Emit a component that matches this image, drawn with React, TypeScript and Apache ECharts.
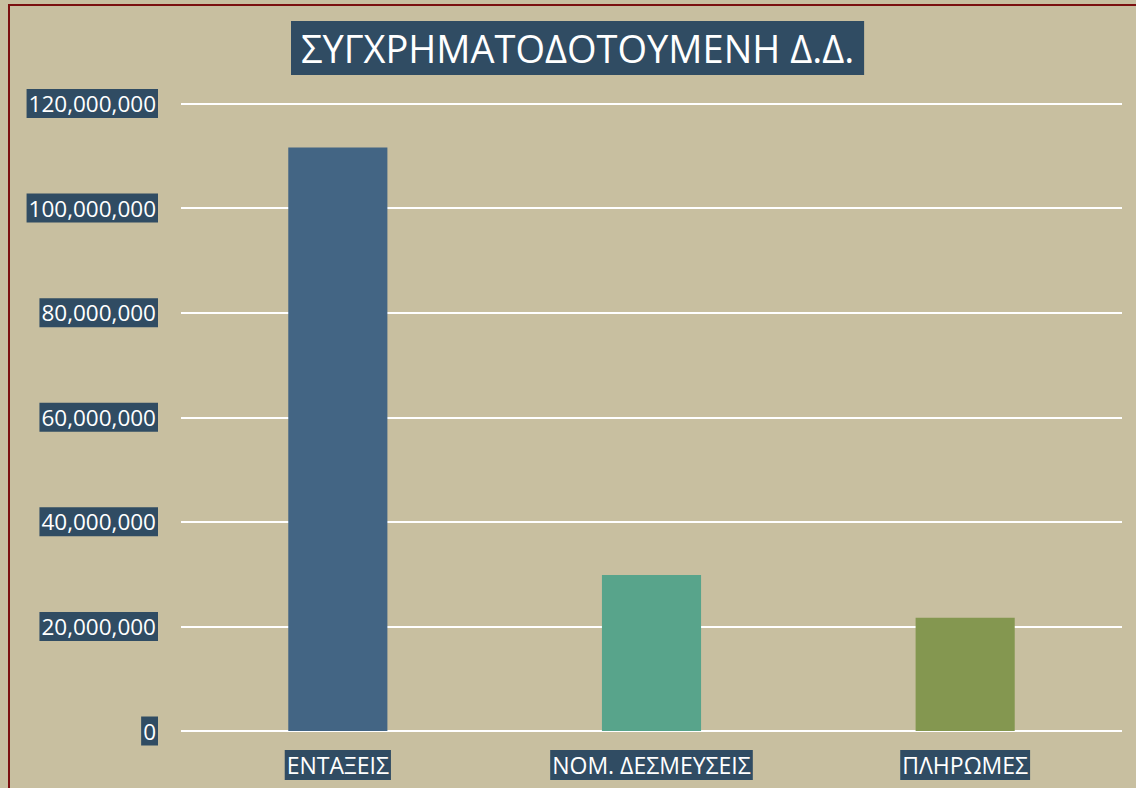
import React, { useEffect, useRef } from "react";
import * as echarts from "echarts";

const categories = ["ΕΝΤΑΞΕΙΣ", "ΝΟΜ. ΔΕΣΜΕΥΣΕΙΣ", "ΠΛΗΡΩΜΕΣ"];
const values = [111600000, 29850000, 21650000];
const barColors = ["#436584", "#58A48B", "#849750"];
const titleText = "ΣΥΓΧΡΗΜΑΤΟΔΟΤΟΥΜΕΝΗ Δ.Δ.";

const FONT = "'Open Sans', 'Noto Sans', sans-serif";
const LABEL_BG = "#304C63";

export default function App() {
  const ref = useRef<HTMLDivElement>(null);
  useEffect(() => {
    if (!ref.current) return;
    const chart = echarts.init(ref.current, null, { renderer: "svg" });
    chart.setOption({
      animation: false,
      backgroundColor: "#C8BFA0",
      title: {
        text: titleText,
        left: 291,
        top: 21,
        padding: [6, 10, 6, 10],
        backgroundColor: LABEL_BG,
        textStyle: {
          color: "#ffffff",
          fontFamily: FONT,
          fontSize: 38,
          fontWeight: "normal",
          lineHeight: 42,
        },
      },
      graphic: [
        {
          type: "rect",
          shape: { x: 9, y: 5, width: 1200, height: 900 },
          style: { fill: "none", stroke: "#7B0F0F", lineWidth: 2 },
          silent: true,
        },
      ],
      grid: { left: 181, right: 14, top: 103.5, bottom: 57 },
      xAxis: {
        type: "category",
        data: categories,
        axisLine: { show: false },
        axisTick: { show: false },
        axisLabel: {
          color: "#ffffff",
          fontFamily: FONT,
          fontSize: 23,
          backgroundColor: LABEL_BG,
          padding: [3, 2, 3, 2],
          margin: 19,
          lineHeight: 24,
        },
      },
      yAxis: {
        type: "value",
        min: 0,
        max: 120000000,
        interval: 20000000,
        axisLine: { show: false },
        axisTick: { show: false },
        splitLine: { lineStyle: { color: "#ffffff", width: 2 } },
        axisLabel: {
          color: "#ffffff",
          fontFamily: FONT,
          fontSize: 22.5,
          backgroundColor: LABEL_BG,
          padding: [3, 2, 2, 2],
          margin: 23,
          lineHeight: 24,
          formatter: (v: number) => v.toLocaleString("en-US"),
        },
      },
      series: [
        {
          type: "bar",
          barWidth: "31.6%",
          data: values.map((v, i) => ({ value: v, itemStyle: { color: barColors[i] } })),
        },
      ],
    });
    return () => chart.dispose();
  }, []);
  return (
    <div
      ref={ref}
      style={{ position: "absolute", left: 0, top: 0, width: 1136, height: 788 }}
    />
  );
}
